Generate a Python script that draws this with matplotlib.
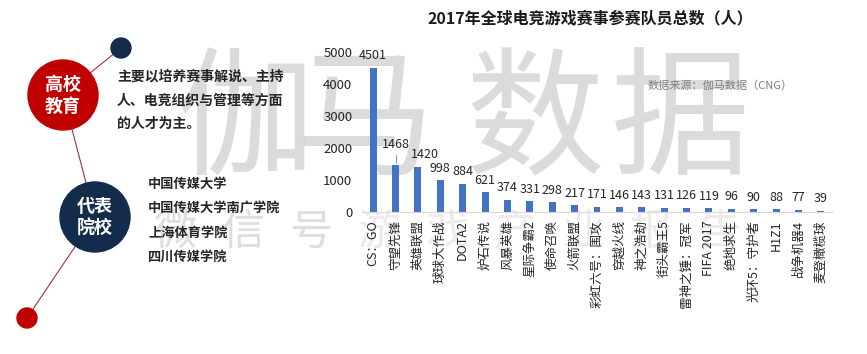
import matplotlib
matplotlib.use("Agg")
import matplotlib.pyplot as plt
from matplotlib.patches import Circle

plt.rcParams['font.family'] = ['Noto Sans CJK SC', 'DejaVu Sans']

# dati del grafico
games = ['CS：GO', '守望先锋', '英雄联盟', '球球大作战', 'DOTA2', '炉石传说', '风暴英雄',
         '星际争霸2', '使命召唤', '火箭联盟', '彩虹六号：围攻', '穿越火线', '神之浩劫',
         '街头霸王5', '雷神之锤：冠军', 'FIFA 2017', '绝地求生', '光环5：守护者', 'H1Z1',
         '战争机器4', '麦登橄榄球']
players = [4501, 1468, 1420, 998, 884, 621, 374, 331, 298, 217, 171, 146, 143,
           131, 126, 119, 96, 90, 88, 77, 39]
yticks = [0, 1000, 2000, 3000, 4000, 5000]

title = '2017年全球电竞游戏赛事参赛队员总数（人）'
source = '数据来源：伽马数据（CNG）'
intro = ['主要以培养赛事解说、主持', '人、电竞组织与管理等方面', '的人才为主。']
schools = ['中国传媒大学', '中国传媒大学南广学院', '上海体育学院', '四川传媒学院']
wm_top = '伽马数据'
wm_bottom = '微信号：游戏产业报告'

W, H = 867, 354
fig = plt.figure(figsize=(W / 100, H / 100), dpi=100)

# pannello di sinistra, coordinate in pixel
bg = fig.add_axes([0, 0, 1, 1])
bg.set_xlim(0, W)
bg.set_ylim(H, 0)
bg.axis('off')

red = '#C00000'
navy = '#132C4C'
bg.plot([121, 63, 95, 27], [48, 95, 217, 318], color='#A0343C', lw=0.8, zorder=1)
bg.add_patch(Circle((121, 48), 10, color=navy, zorder=2))
bg.add_patch(Circle((63, 95), 35, color=red, zorder=2))
bg.add_patch(Circle((95, 217), 35, color=navy, zorder=2))
bg.add_patch(Circle((27, 318), 10, color=red, zorder=2))
bg.text(63, 95, '高校\n教育', color='white', fontsize=13, fontweight='bold',
        ha='center', va='center', linespacing=1.2, zorder=3)
bg.text(95, 217, '代表\n院校', color='white', fontsize=13, fontweight='bold',
        ha='center', va='center', linespacing=1.2, zorder=3)
for i, s in enumerate(intro):
    bg.text(117, 77 + i * 23.5, s, fontsize=10, fontweight='bold', color='#262626',
            va='center', zorder=3)
for i, s in enumerate(schools):
    bg.text(148, 184 + i * 24.3, s, fontsize=9.5, fontweight='bold', color='#262626',
            va='center', zorder=3)

# filigrana
for ch, x in zip(wm_top, [245, 365, 535, 680]):
    bg.text(x, 125, ch, fontsize=100, color='#BFBFBF', alpha=0.55,
            ha='center', va='center', zorder=0)
for i, ch in enumerate(wm_bottom):
    if ch == '：':
        continue
    k = i if i < 3 else i - 1
    bg.text(175 + k * 68, 233, ch, fontsize=31, color='#C8C8C8',
            alpha=0.6 if k < 3 else 0.35, ha='center', va='center', zorder=0)

# grafico a barre
ax = fig.add_axes([362 / W, 1 - 212 / H, (832 - 362) / W, (212 - 52) / H])
ax.set_facecolor('none')
x = range(len(games))
ax.bar(x, players, width=0.31, color='#4472C4', zorder=2)
for xi, v in zip(x, players):
    dx, dy = 0, 4
    if xi == 1:
        dy = 10
    elif xi == 2:
        dx = 5
    ax.annotate(str(v), (xi, v), xytext=(dx, dy), textcoords='offset points',
                ha='center', va='bottom', fontsize=9, color='#262626',
                annotation_clip=False)
ax.plot([1, 1], [1468 + 60, 1468 + 300], color='#7F7F7F', lw=0.6)
ax.set_xlim(-0.5, len(games) - 0.5)
ax.set_ylim(0, 5000)
ax.set_yticks(yticks)
ax.set_xticks(list(x))
ax.set_xticklabels(games, rotation=90, fontsize=9, color='#262626')
ax.tick_params(axis='y', labelsize=9.5, colors='#262626', length=0, pad=7)
ax.tick_params(axis='x', length=0, pad=6)
for sp in ['top', 'right', 'left']:
    ax.spines[sp].set_visible(False)
ax.spines['bottom'].set_color('#D9D9D9')

fig.text(590 / W, 1 - 18 / H, title, fontsize=11.5, fontweight='bold', color='#1a1a1a',
         ha='center', va='center')
fig.text(720 / W, 1 - 86 / H, source, fontsize=8, color='#7F7F7F',
         ha='center', va='center')

fig.savefig('out.png', dpi=100)
